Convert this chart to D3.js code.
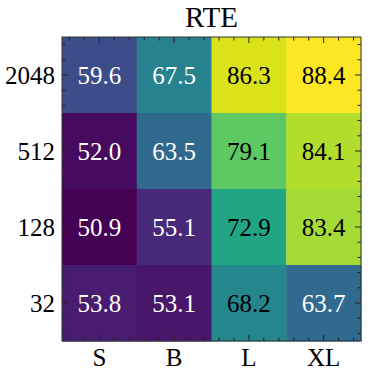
<!DOCTYPE html>
<meta charset="utf-8">
<html>
<head>
<script src="https://d3js.org/d3.v7.min.js"></script>
<style>
  body { margin: 0; background: #fff; }
</style>
</head>
<body>
<div id="viz"></div>
<script>
  // data, rows listed top to bottom
  const models = ['S', 'B', 'L', 'XL'];
  const sizes = ['2048', '512', '128', '32'];
  const row2048 = [59.6, 67.5, 86.3, 88.4];
  const row512 = [52.0, 63.5, 79.1, 84.1];
  const row128 = [50.9, 55.1, 72.9, 83.4];
  const row32 = [53.8, 53.1, 68.2, 63.7];
  const title = 'RTE';

  const rows = [row2048, row512, row128, row32];
  const cells = [];
  rows.forEach((r, i) => r.forEach((v, j) => cells.push({size: sizes[i], model: models[j], v: v})));

  const FONT = "'Liberation Serif', Tinos, 'Times New Roman', Times, serif";

  let W = 373, H = 377;
  let margin = {top: 37, right: 12, bottom: 36, left: 62};
  let width = W - margin.left - margin.right,
      height = H - margin.top - margin.bottom;

  let svg = d3.select('#viz').append('svg')
    .attr('width', W).attr('height', H)
    .attr('font-family', FONT)
    .append('g')
    .attr('transform', `translate(${margin.left},${margin.top})`);

  let x = d3.scaleBand().domain(models).range([0, width]);
  let y = d3.scaleBand().domain(sizes).range([0, height]);

  let allVals = cells.map(d => d.v);
  let color = d3.scaleSequential(d3.interpolateViridis)
    .domain([d3.min(allVals), d3.max(allVals)]);

  svg.selectAll('.cell')
    .data(cells)
    .join('rect')
    .attr('class', 'cell')
    .attr('x', d => x(d.model))
    .attr('y', d => y(d.size))
    .attr('width', x.bandwidth() + 0.5)
    .attr('height', y.bandwidth() + 0.5)
    .attr('fill', d => color(d.v));

  svg.selectAll('.val')
    .data(cells)
    .join('text')
    .attr('class', 'val')
    .attr('x', d => x(d.model) + x.bandwidth() / 2)
    .attr('y', d => y(d.size) + y.bandwidth() / 2)
    .attr('dy', '0.35em')
    .attr('text-anchor', 'middle')
    .attr('font-size', 25)
    .attr('fill', d => d.v > 68 ? '#000' : '#fff')
    .text(d => d.v.toFixed(1));

  // minor tick positions: every 1/5 of a cell
  let bw = x.bandwidth(), bh = y.bandwidth();
  let minorX = [], minorY = [];
  models.forEach(m => [-2, -1, 1, 2].forEach(k => minorX.push(x(m) + bw / 2 + k * bw / 5)));
  sizes.forEach(s => [-2, -1, 1, 2].forEach(k => minorY.push(y(s) + bh / 2 + k * bh / 5)));

  const tickCol = '#222', major = 6, minor = 3.5;
  let ticks = svg.append('g').attr('stroke', tickCol).attr('stroke-width', 1);
  models.forEach(m => {
    let cx = x(m) + bw / 2;
    ticks.append('line').attr('x1', cx).attr('x2', cx).attr('y1', height).attr('y2', height - major);
    ticks.append('line').attr('x1', cx).attr('x2', cx).attr('y1', 0).attr('y2', major);
  });
  minorX.forEach(cx => {
    ticks.append('line').attr('x1', cx).attr('x2', cx).attr('y1', height).attr('y2', height - minor);
    ticks.append('line').attr('x1', cx).attr('x2', cx).attr('y1', 0).attr('y2', minor);
  });
  sizes.forEach(s => {
    let cy = y(s) + bh / 2;
    ticks.append('line').attr('y1', cy).attr('y2', cy).attr('x1', 0).attr('x2', major);
    ticks.append('line').attr('y1', cy).attr('y2', cy).attr('x1', width).attr('x2', width - major);
  });
  minorY.forEach(cy => {
    ticks.append('line').attr('y1', cy).attr('y2', cy).attr('x1', 0).attr('x2', minor);
    ticks.append('line').attr('y1', cy).attr('y2', cy).attr('x1', width).attr('x2', width - minor);
  });

  // frame
  svg.append('rect')
    .attr('width', width).attr('height', height)
    .attr('fill', 'none').attr('stroke', '#333').attr('stroke-width', 1);

  // tick labels
  svg.selectAll('.xl')
    .data(models)
    .join('text')
    .attr('class', 'xl')
    .attr('x', d => x(d) + bw / 2)
    .attr('y', height + 25)
    .attr('text-anchor', 'middle')
    .attr('font-size', 25)
    .text(d => d);

  svg.selectAll('.yl')
    .data(sizes)
    .join('text')
    .attr('class', 'yl')
    .attr('x', -7)
    .attr('y', d => y(d) + bh / 2)
    .attr('dy', '0.35em')
    .attr('text-anchor', 'end')
    .attr('font-size', 25)
    .text(d => d);

  svg.append('text')
    .attr('x', width / 2)
    .attr('y', -10)
    .attr('text-anchor', 'middle')
    .attr('font-size', 29)
    .text(title);
</script>
</body>
</html>
